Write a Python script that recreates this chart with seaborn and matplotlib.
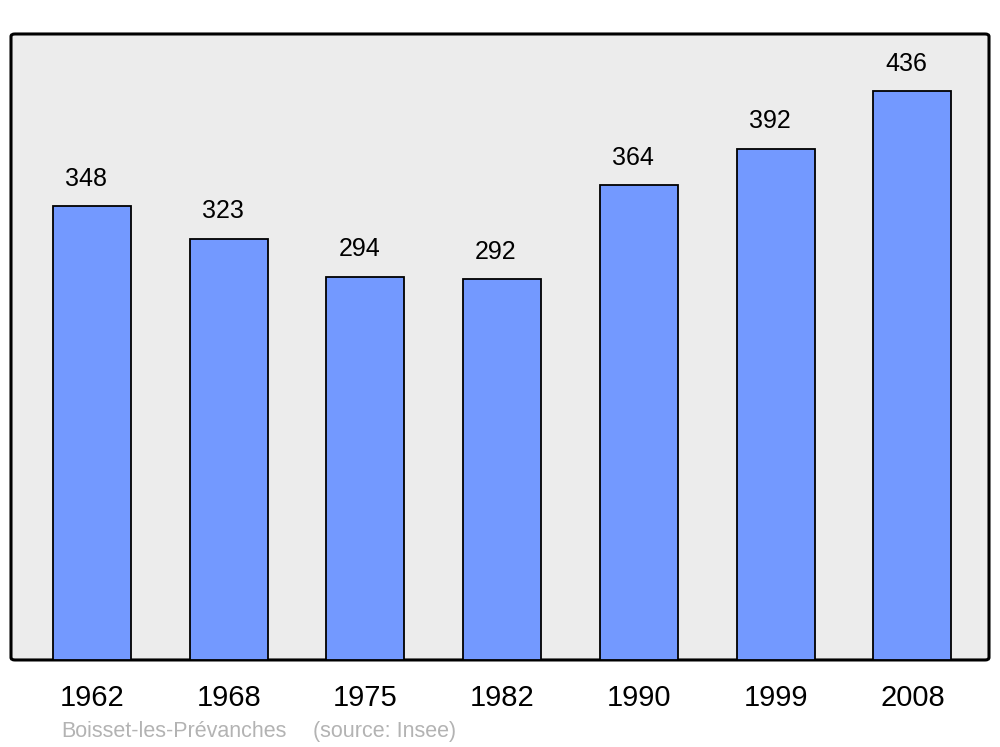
import matplotlib
matplotlib.use("Agg")
import matplotlib.pyplot as plt
import seaborn as sns
import pandas as pd
from matplotlib.patches import FancyBboxPatch

# Data
years = ["1962", "1968", "1975", "1982", "1990", "1999", "2008"]
population = [348, 323, 294, 292, 364, 392, 436]
commune = "Boisset-les-Prévanches"
source = "(source: Insee)"

df = pd.DataFrame({"Year": years, "Population": population})

sns.set_style("white")
plt.rcParams["font.family"] = ["Liberation Sans", "DejaVu Sans"]
plt.rcParams["text.color"] = "black"
plt.rcParams["xtick.color"] = "black"

fig = plt.figure(figsize=(10, 7.47), dpi=100)
ax = fig.add_axes([0.011, 0.1165, 0.978, 0.838])

# rounded grey frame
ax.patch.set_visible(False)
frame = FancyBboxPatch(
    (0, 0), 1, 1,
    boxstyle="round,pad=0,rounding_size=0.004",
    transform=ax.transAxes,
    facecolor="#ececec",
    edgecolor="black",
    linewidth=2.2,
    zorder=0,
    clip_on=False
)
ax.add_patch(frame)
for s in ax.spines.values():
    s.set_visible(False)

sns.barplot(
    data=df,
    x="Year",
    y="Population",
    color="#7399ff",
    saturation=1,
    width=0.57,
    edgecolor="black",
    linewidth=1.3,
    ax=ax,
    zorder=2
)

# value labels (slightly left of bar centre, as in the original)
for bar in ax.containers[0]:
    ax.annotate(
        f"{bar.get_height():.0f}",
        (bar.get_x() + bar.get_width() / 2, bar.get_height()),
        xytext=(-4.5, 11),
        textcoords="offset points",
        ha="center",
        va="bottom",
        fontsize=18,
        color="black"
    )

ax.set_ylim(0, 480)
ax.set_xlim(-0.592, 6.56)
ax.set_yticks([])
ax.set_xlabel("")
ax.set_ylabel("")
ax.tick_params(axis="x", length=0, pad=17, labelsize=21, labelcolor="black")

fig.text(0.061, 0.021, commune, fontsize=15.5, color="#b3b3b3", va="center")
fig.text(0.313, 0.021, source, fontsize=15.5, color="#b3b3b3", va="center")

fig.savefig("out.png", dpi=100)
